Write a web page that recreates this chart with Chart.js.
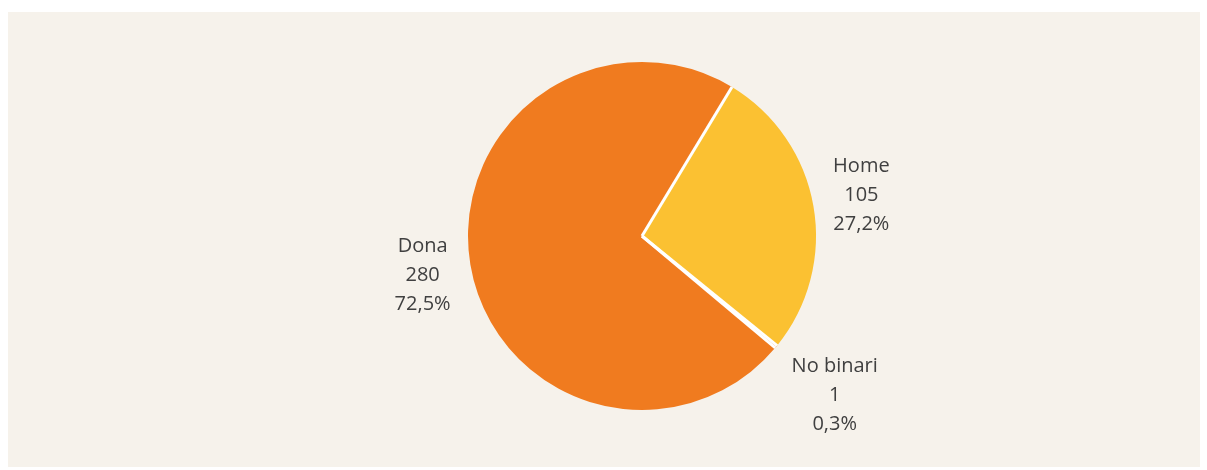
<!DOCTYPE html>
<html>
<head>
    <title>Dona / Home / No binari</title>
    <script src="https://cdn.jsdelivr.net/npm/chart.js"></script>
    <style>
        body { margin: 0; background: #ffffff; }
        .panel {
            position: absolute; left: 8px; top: 12px;
            width: 1192px; height: 455px;
            background: #f6f2eb;
        }
    </style>
</head>
<body>
<div class="panel">
    <canvas id="pieChart" width="1192" height="455"></canvas>
</div>
<script>
    // data
    const categories = ['Dona', 'Home', 'No binari'];
    const counts = [280, 105, 1];
    const percents = ['72,5%', '27,2%', '0,3%'];
    const colors = ['#f07b1f', '#fbc132', '#f07b1f'];

    // white separators between slices only (no outline round the pie)
    const separators = {
        id: 'separators',
        afterDatasetsDraw(chart) {
            const ctx = chart.ctx;
            const meta = chart.getDatasetMeta(0);
            ctx.save();
            ctx.strokeStyle = '#ffffff';
            ctx.lineWidth = 3;
            meta.data.forEach(arc => {
                ctx.beginPath();
                ctx.moveTo(arc.x, arc.y);
                ctx.lineTo(arc.x + arc.outerRadius * Math.cos(arc.startAngle),
                           arc.y + arc.outerRadius * Math.sin(arc.startAngle));
                ctx.stroke();
            });
            ctx.restore();
        }
    };

    // outside labels: three lines, pushed off the rim along the slice middle
    const outsideLabels = {
        id: 'outsideLabels',
        afterDatasetsDraw(chart) {
            const ctx = chart.ctx;
            const meta = chart.getDatasetMeta(0);
            ctx.save();
            ctx.font = '20px "Open Sans"';
            ctx.fillStyle = '#404040';
            ctx.textAlign = 'center';
            ctx.textBaseline = 'middle';
            const lineH = 29;
            meta.data.forEach((arc, i) => {
                const mid = (arc.startAngle + arc.endAngle) / 2;
                const dx = Math.cos(mid), dy = Math.sin(mid);
                const ax = arc.x + (arc.outerRadius + 20) * dx;
                const ay = arc.y + (arc.outerRadius + 20) * dy;
                const lines = [categories[i], String(counts[i]), percents[i]];
                const w = Math.max(...lines.map(l => ctx.measureText(l).width));
                const h = lineH * 3;
                const m = Math.max(Math.abs(dx), Math.abs(dy));
                const cx = ax + dx * w / 2 / m;
                const cy = ay + dy * h / 2 / m;
                lines.forEach((l, k) => {
                    ctx.fillText(l, cx, cy + (k - 1) * lineH);
                });
            });
            ctx.restore();
        }
    };

    new Chart(document.getElementById('pieChart'), {
        type: 'pie',
        data: {
            labels: categories,
            datasets: [{
                data: counts,
                backgroundColor: colors,
                borderWidth: 0
            }]
        },
        options: {
            responsive: false,
            animation: false,
            rotation: 130,
            layout: { padding: { top: 50, bottom: 57, left: 76, right: 0 } },
            plugins: {
                legend: { display: false },
                tooltip: { enabled: false }
            }
        },
        plugins: [separators, outsideLabels]
    });
</script>
</body>
</html>
